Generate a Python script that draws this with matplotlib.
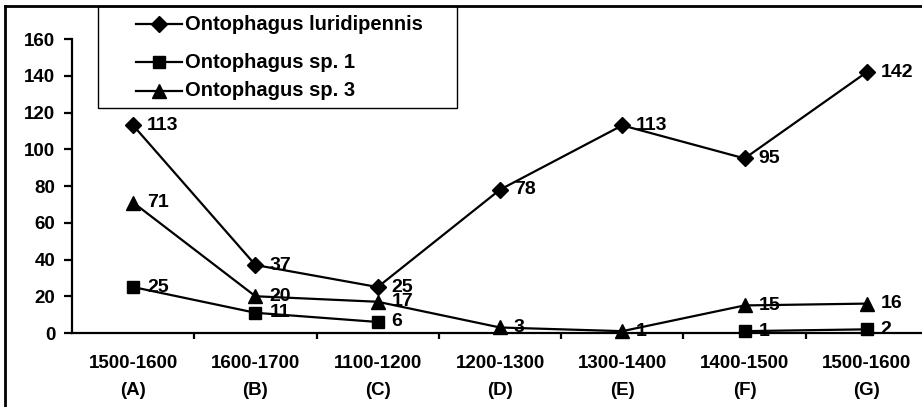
import numpy as np
import matplotlib
matplotlib.use("Agg")
import matplotlib.pyplot as plt
from matplotlib.lines import Line2D
from matplotlib.patches import Rectangle

plt.rcParams['font.family'] = ['Liberation Sans', 'DejaVu Sans']
plt.rcParams['font.weight'] = 'bold'

# data
periods = ["1500-1600\n(A)", "1600-1700\n(B)", "1100-1200\n(C)", "1200-1300\n(D)",
           "1300-1400\n(E)", "1400-1500\n(F)", "1500-1600\n(G)"]
luridipennis = [113, 37, 25, 78, 113, 95, 142]
sp1 = [25, 11, 6, np.nan, np.nan, 1, 2]
sp3 = [71, 20, 17, 3, 1, 15, 16]

W, H = 922, 407
fig = plt.figure(figsize=(W / 100, H / 100), dpi=100)
ax = fig.add_axes([72 / W, 1 - 333 / H, (928 - 72) / W, (333 - 39) / H])

x = np.arange(len(periods))
series = [
    ("Ontophagus luridipennis", luridipennis, "D", 8.5),
    ("Ontophagus sp. 1", sp1, "s", 8.5),
    ("Ontophagus sp. 3", sp3, "^", 9.5),
]
for name, vals, mk, ms in series:
    ax.plot(x, vals, color="black", lw=1.6, marker=mk, ms=ms, clip_on=False)
    for xi, v in zip(x, vals):
        if np.isnan(v):
            continue
        ax.annotate(str(int(v)), (xi, v), xytext=(10, 0), textcoords="offset points",
                    ha="left", va="center", fontsize=14, fontweight="bold")

ax.set_xlim(-0.5, len(periods) - 0.5)
ax.set_ylim(0, 160)
ax.set_yticks(range(0, 161, 20))
ax.set_xticks(x)
ax.set_xticklabels(periods, linespacing=1.75)
ax.set_xticks(np.arange(0.5, len(periods) - 0.5, 1), minor=True)
ax.tick_params(axis="x", which="major", length=0, pad=16, labelsize=13.5)
ax.tick_params(axis="x", which="minor", length=4, width=1.6, direction="out")
ax.tick_params(axis="y", length=6, width=1.6, direction="out", labelsize=13.5, pad=6)
for lab in ax.get_xticklabels() + ax.get_yticklabels():
    lab.set_fontweight("bold")
for s in ["top", "right"]:
    ax.spines[s].set_visible(False)
for s in ["left", "bottom"]:
    ax.spines[s].set_linewidth(1.6)

# legend box drawn by hand to match the spacing of the original
fig.add_artist(Rectangle((98 / W, 1 - 108 / H), (457 - 98) / W, (108 - 6) / H,
                         transform=fig.transFigure, facecolor="white",
                         edgecolor="black", lw=1.0, zorder=5))
rows = [24, 62, 91]
for (name, vals, mk, ms), ry in zip(series, rows):
    yy = 1 - ry / H
    fig.add_artist(Line2D([136 / W, 159 / W, 182 / W], [yy, yy, yy],
                          transform=fig.transFigure, color="black", lw=1.6,
                          marker=mk, ms=ms, markevery=[1], zorder=6))
    fig.text(185 / W, yy, name, ha="left", va="center", fontsize=14.5,
             fontweight="bold", zorder=6)

# outer chart border (only top and left are inside the picture)
fig.add_artist(Line2D([5 / W, 5 / W], [0, 1 - 6 / H], transform=fig.transFigure,
                      color="black", lw=2))
fig.add_artist(Line2D([5 / W, 1], [1 - 6 / H, 1 - 6 / H], transform=fig.transFigure,
                      color="black", lw=2, zorder=7))

fig.savefig("out.png", dpi=100)
